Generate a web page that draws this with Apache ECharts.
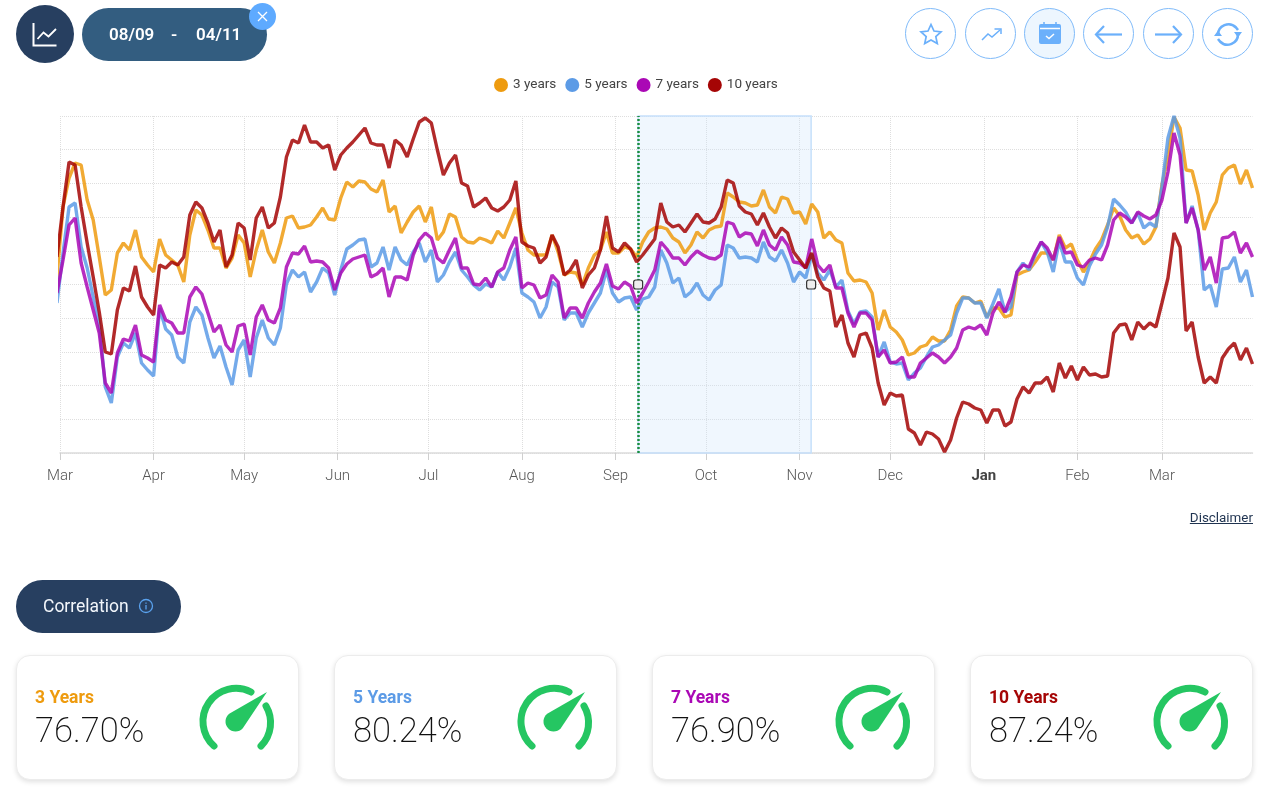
<!DOCTYPE html>
<html><head><meta charset="utf-8">
<script src="https://cdn.jsdelivr.net/npm/echarts@6/dist/echarts.min.js"></script>
<style>
html,body{margin:0;padding:0;background:#fff;width:1285px;height:798px;overflow:hidden;font-family:Roboto,sans-serif}
#chart{position:absolute;left:0;top:0;width:1285px;height:798px}
.ui{position:absolute}
.round{width:49px;height:49px;border:1px solid #7fbaf9;border-radius:50%;top:8px;box-sizing:content-box;background:#fff}
.round svg{position:absolute;left:0;top:0}
.card{position:absolute;top:655px;width:281px;height:123px;border:1px solid #ececec;border-radius:14px;background:#fff;box-shadow:0 2px 5px rgba(0,0,0,.12)}
.card .t{position:absolute;left:18px;top:31px;font-size:17.500px;font-weight:700;line-height:20px;white-space:nowrap}
.card .v{position:absolute;left:18px;top:54px;font-size:34.500px;font-weight:200;line-height:40px;color:#111;white-space:nowrap}
.card svg{position:absolute;left:180px;top:25px}
</style></head><body>
<div id="chart"></div>

<div class="ui" style="left:16px;top:5px;width:58px;height:58px;border-radius:50%;background:#273f60">
<svg width="58" height="58" fill="none" stroke="#fff" stroke-width="2"><path d="M17.500 18v22.500h23"/><path d="M21.500 34l6-6.500 5 4 7.500-7.500" stroke-width="1.800"/></svg></div>
<div class="ui" style="left:82px;top:8px;width:185px;height:53px;border-radius:27px;background:#335d80;color:#fff;font-size:17px;font-weight:600;line-height:53px">
<span style="position:absolute;left:27px">08/09</span><span style="position:absolute;left:89px">-</span><span style="position:absolute;left:114px">04/11</span></div>
<div class="ui" style="left:249px;top:3px;width:27px;height:27px;border-radius:50%;background:#5eaaff">
<svg width="27" height="27" stroke="#fff" stroke-width="1.300"><path d="M9 9l9 9M18 9l-9 9"/></svg></div>

<div class="ui round" style="left:905px"><svg width="50" height="50" fill="none" stroke="#6bb0fb" stroke-width="1.700"><path d="M25 15.500l3 6.500 7 .8-5.200 4.700 1.500 7L25 31l-6.300 3.500 1.500-7-5.200-4.700 7-.8z"/></svg></div>
<div class="ui round" style="left:965px"><svg width="50" height="50" fill="none" stroke="#6bb0fb" stroke-width="1.500"><path d="M16 31l6-6 4 3 8-7"/><path d="M28.500 20h6.500v5"/></svg></div>
<div class="ui round" style="left:1024px;background:#edf6fe"><svg width="50" height="50"><rect x="14" y="15" width="22" height="20" rx="2" fill="#6bb0fb"/><path d="M19 13v3M31 13v3" stroke="#6bb0fb" stroke-width="1.500"/><path d="M15 19.500h20" stroke="#fff" stroke-width="1.500"/><path d="M21 27l3 2.500 5-4.500" stroke="#fff" stroke-width="1.500" fill="none"/></svg></div>
<div class="ui round" style="left:1083px"><svg width="50" height="50" fill="none" stroke="#6bb0fb" stroke-width="2.200"><path d="M12 25.500h26"/><path d="M20 17l-8 8.500 8 8.500"/></svg></div>
<div class="ui round" style="left:1143px"><svg width="50" height="50" fill="none" stroke="#6bb0fb" stroke-width="2.200"><path d="M11 25.500h26"/><path d="M29 17l8 8.500-8 8.500"/></svg></div>
<div class="ui round" style="left:1202px"><svg width="50" height="50" fill="none" stroke="#6bb0fb" stroke-width="2.600"><path d="M15 26a10.500 10.500 0 0 1 18-7.500l2 2.500"/><path d="M35 25a10.500 10.500 0 0 1-18 7.500l-2-2.500"/><path d="M31 23h8l-4 5.500z M11 27h8l-4-5.500z" fill="#6bb0fb" stroke="none"/></svg></div>

<div class="ui" style="right:32px;top:510px;font-size:13.400px;line-height:16px;color:#1f3350;text-decoration:underline">Disclaimer</div>

<div class="ui" style="left:16px;top:580px;width:165px;height:53px;border-radius:27px;background:#273f60;color:#f2f6fb;font-size:17.500px;line-height:52px">
<span style="position:absolute;left:27px">Correlation</span>
<svg style="position:absolute;left:122px;top:18px" width="16" height="16" fill="none" stroke="#5aa2ee" stroke-width="1.300"><circle cx="8" cy="8" r="6.500"/><path d="M8 7v4.500M8 4.500v1.300"/></svg></div>

<div id="cards"></div>

<script>
// Day offsets from 1 March, sampled every two days
const days = [];
for (let d = -1; d <= 395; d += 2) days.push(d);

// Month ticks (days from 1 March) and their labels
const monthDays = [0,31,61,92,122,153,184,214,245,275,306,337,365];
const monthLabels = ['Mar','Apr','May','Jun','Jul','Aug','Sep','Oct','Nov','Dec','Jan','Feb','Mar'];

const years3 = [176,246,275,290,288,253,233,196,158,163,200,210,203,223,196,188,181,214,198,193,188,171,218,243,238,223,205,205,185,195,218,210,176,203,223,201,190,210,235,237,225,226,228,236,245,234,233,255,
271,266,272,271,264,261,273,241,247,220,231,241,247,231,246,213,221,239,236,216,211,210,215,213,210,222,215,230,245,220,203,198,198,198,218,201,178,181,180,168,185,198,203,221,200,200,206,204,
196,211,221,225,226,224,215,211,200,208,221,215,223,226,227,260,256,251,250,247,248,263,246,240,256,254,240,241,229,249,241,215,221,213,210,180,172,173,171,160,123,143,126,121,113,98,100,106,
108,116,112,112,123,147,156,155,150,152,136,145,145,136,138,178,181,183,191,200,200,193,218,205,209,193,181,191,204,213,228,245,237,223,215,218,209,214,226,268,298,336,325,283,282,258,223,240,251,278,285,288,269,283,265];

const years5 = [150,200,246,250,206,185,156,130,66,50,96,110,105,120,90,83,77,145,124,118,96,90,131,146,138,115,95,107,86,68,103,113,76,115,133,115,108,125,169,183,176,181,161,171,185,180,158,183,
204,208,213,214,186,190,206,183,206,193,188,201,210,191,203,171,178,191,201,183,176,168,163,169,166,181,173,186,205,160,156,151,135,146,171,166,133,140,140,126,140,150,160,183,160,151,155,156,
143,154,156,166,203,190,170,175,156,161,170,158,153,163,168,208,205,195,196,195,191,211,196,192,203,190,171,181,175,199,180,173,183,166,173,142,129,141,142,136,96,111,91,89,90,73,80,85,
96,106,108,113,118,140,155,155,150,150,135,149,164,141,146,181,190,183,198,211,201,181,212,191,191,175,168,187,199,208,226,254,248,241,230,240,225,230,226,266,315,337,315,230,247,223,163,168,146,184,185,196,171,183,156];

const years7 = [160,193,228,235,190,166,143,120,70,60,100,114,112,128,98,95,91,148,133,130,120,120,156,166,159,140,121,128,108,101,127,129,98,136,148,133,130,145,186,200,199,207,191,192,191,185,163,180,
189,194,196,198,176,179,185,156,176,176,173,198,213,220,215,195,190,203,215,185,185,169,168,175,166,181,185,203,216,165,170,168,155,158,178,171,135,145,145,135,150,161,170,189,167,164,171,167,
150,160,171,183,211,204,195,195,188,196,202,198,195,194,198,231,229,216,220,219,207,223,208,203,216,208,191,190,185,214,188,181,188,165,165,140,126,140,140,133,96,103,90,91,96,76,76,90,
95,100,96,90,96,105,123,126,124,128,118,140,151,141,156,181,188,186,200,211,205,193,216,200,201,188,186,193,195,193,208,233,240,236,230,241,237,234,238,253,281,320,298,230,245,223,183,196,170,215,216,221,200,210,196];

const years10 = [196,246,291,288,246,210,176,141,101,99,143,165,162,187,156,146,138,188,185,191,188,196,238,251,245,230,211,223,186,198,230,225,193,235,246,225,230,256,296,313,310,328,311,311,305,308,283,298,
305,311,318,325,310,308,308,285,313,308,296,314,331,335,330,303,278,290,298,270,267,246,250,255,245,242,246,253,272,211,207,205,190,196,218,206,178,183,193,165,178,185,203,237,205,201,210,204,
191,198,206,214,250,231,226,228,221,230,239,231,230,234,246,273,270,247,241,239,228,240,226,215,225,220,201,193,185,200,176,165,162,126,138,110,96,118,120,105,70,48,60,57,58,24,20,8,
21,19,14,1,13,35,51,49,45,43,30,43,43,27,31,54,66,60,70,70,76,61,90,75,87,73,86,78,79,76,77,120,128,129,113,131,124,130,126,150,175,220,206,122,131,96,70,76,70,95,104,110,93,105,89];

const seriesNames = ['3 years','5 years','7 years','10 years'];
const seriesColors = ['#ee9b0f','#5c9be6','#aa08b5','#a50505'];
const seriesValues = [years3, years5, years7, years10];

// Selected period on the axis (days from 1 March)
const selStart = 191.5, selEnd = 248.8;
const yMax = 337, yStep = 33.7;

// Correlation cards
const cardTitles = ['3 Years','5 Years','7 Years','10 Years'];
const cardValues = ['76.70%','80.24%','76.90%','87.24%'];
const cardLeft = [16,334,652,970];

document.getElementById('cards').innerHTML = cardTitles.map((t,i)=>`
<div class="card" style="left:${cardLeft[i]}px">
 <div class="t" style="color:${seriesColors[i]}">${t}</div>
 <div class="v">${cardValues[i]}</div>
 <svg width="80" height="80" fill="none" stroke="#25c662" stroke-width="7" stroke-linecap="round">
  <path d="M17 65A33 33 0 0 1 54 11" />
  <path d="M69 25A33 33 0 0 1 64 65" />
  <path d="M70 11L45.800 47.300A10 10 0 1 1 32.200 32.700Z" fill="#25c662" stroke="none"/>
 </svg>
</div>`).join('');

const chart = echarts.init(document.getElementById('chart'), null, {renderer:'canvas'});
const lines = seriesNames.map((name,i)=>({
  name, type:'line', showSymbol:false, symbol:'none', clip:false, z:3+i,
  data: days.map((d,j)=>[d, seriesValues[i][j]]),
  itemStyle:{color:seriesColors[i]},
  lineStyle:{color:seriesColors[i], width:3.4, opacity:0.85},
  emphasis:{disabled:true}
}));
lines[3].markPoint = {
  silent:true, symbol:'roundRect', symbolSize:9, animation:false,
  itemStyle:{color:'#eeeeee', borderColor:'#333', borderWidth:1.2},
  label:{show:false},
  data:[{coord:[selStart,yMax/2]},{coord:[selEnd,yMax/2]}]
};
const selection = {
  name:'Selection', type:'line', z:1, data:[], symbol:'none', silent:true,
  markArea:{silent:true, itemStyle:{color:'rgba(205,230,253,0.3)', borderColor:'#c6e0fb', borderWidth:1.5},
    data:[[{coord:[selStart,0]},{coord:[selEnd,yMax]}]]},
  markLine:{silent:true, symbol:'none', label:{show:false},
    lineStyle:{type:[2,2], color:'#1b8f3f', width:2.5},
    data:[[{coord:[selStart,0]},{coord:[selStart,yMax]}]]}
};

chart.setOption({
  animation:false,
  backgroundColor:'transparent',
  textStyle:{fontFamily:'Roboto'},
  legend:{
    left:489, top:73, icon:'circle', itemWidth:14, itemHeight:14, itemGap:9,
    data:seriesNames, selectedMode:false,
    textStyle:{fontFamily:'Roboto', fontSize:13.5, color:'#444'}
  },
  grid:{left:60, top:116, width:1192.5, height:337, containLabel:false},
  xAxis:{
    type:'value', min:0, max:395,
    axisLine:{show:true, lineStyle:{color:'#dcdcdc', width:1.5}},
    axisTick:{show:true, length:7, lineStyle:{color:'#cfcfcf'}, customValues:monthDays},
    axisLabel:{
      show:true, customValues:monthDays, margin:16, fontSize:15, fontWeight:300, fontFamily:'Roboto', color:'#555',
      formatter:(v)=>{const k=monthDays.indexOf(v),s=monthLabels[k];return s==='Jan'?'{b|'+s+'}':s;},
      rich:{b:{fontWeight:'bold',fontSize:15,fontFamily:'Roboto',color:'#444'}},
      showMinLabel:true, showMaxLabel:true, hideOverlap:false
    },
    splitLine:{show:true, lineStyle:{type:'dotted', color:'#dedede', width:1}}
  },
  yAxis:{
    type:'value', min:0, max:yMax, interval:yStep,
    axisLine:{show:false}, axisTick:{show:false}, axisLabel:{show:false},
    splitLine:{show:true, lineStyle:{type:'dotted', color:'#dedede', width:1}}
  },
  series:[selection].concat(lines)
});
</script>
</body></html>
